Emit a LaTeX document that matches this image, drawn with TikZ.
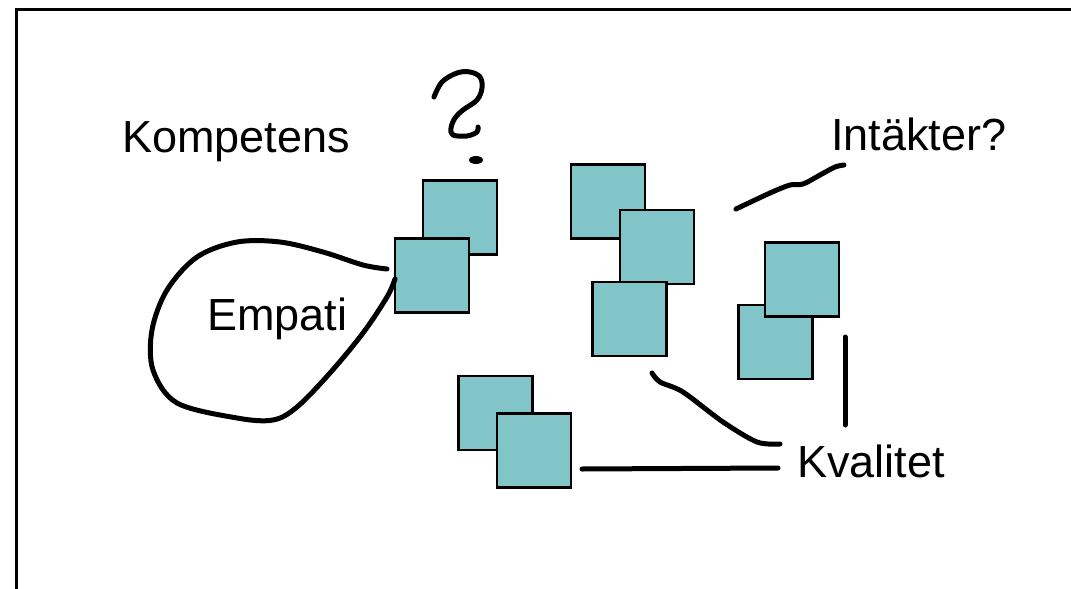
\documentclass[tikz,border=0pt]{standalone}
\usepackage{fontspec}
\setmainfont{Liberation Sans}
\usepackage{xcolor}
\definecolor{tealbox}{RGB}{130,197,200}

\begin{document}
\begin{tikzpicture}[x=1pt,y=-1pt]
						\tikzstyle{box} = [rectangle,fill=tealbox,draw=black,line width=2.2pt,minimum size=74pt,inner sep=0pt]
						\tikzstyle{word} = [anchor=base west,inner sep=0pt,font=\fontsize{45}{54}\selectfont]
						\tikzstyle{stroke} = [line width=5pt,line cap=round,line join=round]
						\useasboundingbox (0,0) rectangle (1071,589);
						\draw[line width=3pt] (16,589) -- (16,9) -- (1071,9);
						
						\node[word] (kompetens) at (122,152) {Kompetens};
						\node[word] (intakter) at (831,150) {Intäkter?};
						\node[word] (empati) at (207,330) {Empati};
						\node[word] (kvalitet) at (797,477) {Kvalitet};
						
						\node[box] (a1) at (460,217.5) {};
						\node[box] (a2) at (432,275.5) {};
						\node[box] (b1) at (608,201.5) {};
						\node[box] (b2) at (657,247) {};
						\node[box] (b3) at (629.5,319) {};
						\node[box] (c1) at (775.5,342) {};
						\node[box] (c2) at (802,279.5) {};
						\node[box] (d1) at (495.5,413) {};
						\node[box] (d2) at (534,450.5) {};
						
						\coordinate (loopa) at (387,269);
						\coordinate (loopb) at (395,279);
						\coordinate (qa) at (434,97);
						\coordinate (qb) at (478,127);
						\coordinate (inta) at (736,209);
						\coordinate (intb) at (844,165);
						\coordinate (kva) at (652,373);
						\coordinate (kvb) at (780,444);
						\coordinate (kvc) at (582,469);
						\coordinate (kvd) at (778,468);
						\coordinate (kve) at (845,337);
						\coordinate (kvf) at (845,425);
						
						\draw[stroke] plot[smooth,tension=0.55] coordinates {(loopa) (363,265) (323,252) (280,242) (237,242) (197,257) (167,290) (152,330) (153,370) (177,403) (237,418) (273,420) (297,407) (330,373) (363,333) (387,297) (loopb)};
						\draw[stroke] plot[smooth,tension=0.6] coordinates {(qa) (442,82) (457,73) (470,72) (480,77) (482,88) (477,100) (463,110) (455,118) (451,128) (453,135) (467,136) (477,132) (qb)};
						\fill (476,160) ellipse (7pt and 4pt);
						\draw[stroke] plot[smooth,tension=0.5] coordinates {(inta) (770,193) (790,185) (803,184) (820,175) (835,167) (intb)};
						\draw[stroke] plot[smooth,tension=0.5] coordinates {(kva) (660,382) (683,392) (723,422) (757,442) (kvb)};
						\draw[stroke] (kvc) -- (kvd);
						\draw[stroke] (kve) -- (kvf);
						
						\end{tikzpicture}
\end{document}
